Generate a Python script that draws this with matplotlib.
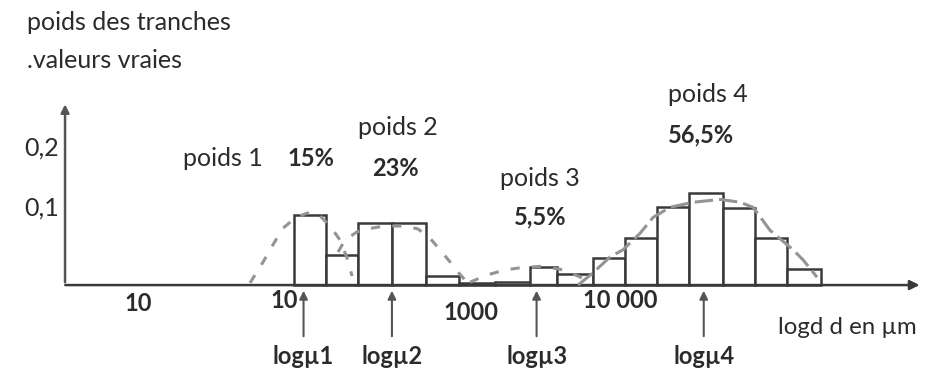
import numpy as np
import matplotlib
matplotlib.use("Agg")
import matplotlib.pyplot as plt

plt.rcParams['font.family'] = ['Lato', 'DejaVu Sans']

# histogram of class weights, x in log10(d), d in micrometres
bin_edges = [1.97, 2.17, 2.37, 2.58, 2.79, 3.00, 3.22, 3.44, 3.61, 3.83,
             4.03, 4.23, 4.43, 4.64, 4.84, 5.04, 5.25]
bin_heights = [0.097, 0.042, 0.086, 0.086, 0.012, 0.003, 0.004, 0.025,
               0.015, 0.0375, 0.065, 0.108, 0.128, 0.107, 0.065, 0.022]

# hand drawn fitted curves
c1_x = [1.697, 1.778, 1.840, 1.902, 1.977, 2.052, 2.120, 2.195, 2.257, 2.301, 2.332]
c1_y = [0.003, 0.032, 0.056, 0.079, 0.093, 0.100, 0.099, 0.082, 0.0625, 0.0375, 0.0125]
c2_x = [2.245, 2.288, 2.363, 2.425, 2.537, 2.661, 2.742, 2.817, 2.879, 2.942, 2.991, 3.041]
c2_y = [0.046, 0.0625, 0.074, 0.078, 0.082, 0.082, 0.078, 0.065, 0.049, 0.032, 0.018, 0.0055]
c3_x = [3.066, 3.172, 3.284, 3.377, 3.502, 3.626, 3.738, 3.825]
c3_y = [0.004, 0.014, 0.021, 0.024, 0.026, 0.022, 0.0125, 0.003]
c4_x = [3.738, 3.831, 3.937, 4.018, 4.124, 4.205, 4.310, 4.454, 4.622, 4.746,
        4.827, 4.933, 5.076, 5.138, 5.225]
c4_y = [0.0, 0.017, 0.039, 0.049, 0.072, 0.094, 0.108, 0.115, 0.119, 0.115,
        0.108, 0.076, 0.049, 0.035, 0.011]

mu_log = [2.03, 2.58, 3.48, 4.52]
mu_labels = ["logµ1", "logµ2", "logµ3", "logµ4"]

tick_pos = [1.0, 1.91, 3.07, 4.0]
tick_labels = ["10", "10", "1000", "10 000"]
tick_dy = [-0.025, -0.021, -0.038, -0.021]

W, H = 926, 370
fig = plt.figure(figsize=(W / 100, H / 100), dpi=100)
ax = fig.add_axes([0, 0, 1, 1])
ax.set_xlim(0.1413, 5.903)
ax.set_ylim(-0.118, 0.396)
ax.axis('off')

def ftext(px, py, s, **kw):
    # place text by pixel position (from top-left)
    fig.text(px / W, 1 - py / H, s, **kw)

dark = '#3a3a3a'
gray = '#949494'
txt = '#2b2b2b'

# axes drawn as arrows
ax.annotate('', xy=(5.88, 0), xytext=(0.53, 0),
            arrowprops=dict(arrowstyle='-|>', color=dark, lw=1.8, mutation_scale=14))
ax.annotate('', xy=(0.546, 0.255), xytext=(0.546, 0),
            arrowprops=dict(arrowstyle='-|>', color='#555555', lw=1.8, mutation_scale=12))

ax.bar(bin_edges[:-1], bin_heights, width=np.diff(bin_edges), align='edge',
       facecolor='white', edgecolor=dark, linewidth=1.8, zorder=2)

ax.plot(c1_x, c1_y, color=gray, lw=2.2, ls=(0, (3, 4)), zorder=3)
ax.plot(c2_x, c2_y, color=gray, lw=2.2, ls=(0, (3, 4)), zorder=3)
ax.plot(c3_x, c3_y, color=gray, lw=2.2, ls=(0, (3, 4)), zorder=3)
ax.plot(c4_x, c4_y, color=gray, lw=2.2, ls=(0, (6, 2)), zorder=3)

for m, lab in zip(mu_log, mu_labels):
    ax.annotate('', xy=(m, -0.004), xytext=(m, -0.075),
                arrowprops=dict(arrowstyle='-|>', color='#555555', lw=1.5, mutation_scale=12))
    ax.text(m, -0.099, lab, ha='center', va='center', fontsize=17,
            fontweight='bold', color=txt)

for p, lab, dy in zip(tick_pos, tick_labels, tick_dy):
    ax.text(p, dy, lab, ha='center', va='center', fontsize=17,
            fontweight='bold', color=txt)

ax.text(0.51, 0.107, "0,1", ha='right', va='center', fontsize=18, color=txt)
ax.text(0.51, 0.19, "0,2", ha='right', va='center', fontsize=18, color=txt)

ftext(27, 22, "poids des tranches", va='center', fontsize=18, color=txt)
ftext(27, 60, ".valeurs vraies", va='center', fontsize=18, color=txt)

ftext(183, 158, "poids 1", va='center', fontsize=18, color=txt)
ftext(287, 158, "15%", va='center', fontsize=17, fontweight='bold', color=txt)
ftext(358, 127, "poids 2", va='center', fontsize=18, color=txt)
ftext(372, 168, "23%", va='center', fontsize=17, fontweight='bold', color=txt)
ftext(500, 178, "poids 3", va='center', fontsize=18, color=txt)
ftext(514, 217, "5,5%", va='center', fontsize=17, fontweight='bold', color=txt)
ftext(668, 95, "poids 4", va='center', fontsize=18, color=txt)
ftext(668, 135, "56,5%", va='center', fontsize=17, fontweight='bold', color=txt)
ftext(778, 327, "logd d en µm", va='center', fontsize=17.3, color=txt)

fig.savefig("out.png", dpi=100, facecolor='white')
